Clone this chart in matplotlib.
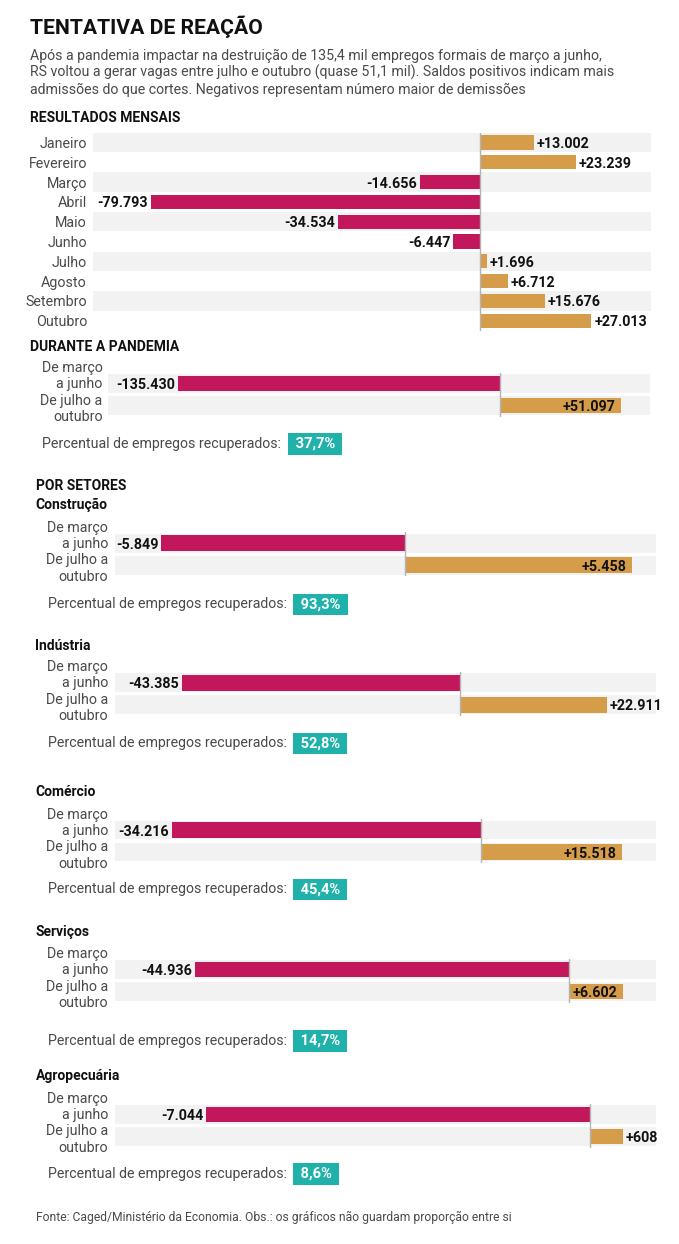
import matplotlib.pyplot as plt

# dados (saldo de empregos formais, RS)
meses = ['Janeiro', 'Fevereiro', 'Março', 'Abril', 'Maio', 'Junho',
         'Julho', 'Agosto', 'Setembro', 'Outubro']
saldo_mensal = [13002, 23239, -14656, -79793, -34534, -6447,
                1696, 6712, 15676, 27013]

periodos = ['De março\na junho', 'De julho a\noutubro']
pandemia = [-135430, 51097]
pct_pandemia = '37,7%'

setores = ['Construção', 'Indústria', 'Comércio', 'Serviços', 'Agropecuária']
perdas = [-5849, -43385, -34216, -44936, -7044]
ganhos = [5458, 22911, 15518, 6602, 608]
pct_setores = ['93,3%', '52,8%', '45,4%', '14,7%', '8,6%']

titulo = 'TENTATIVA DE REAÇÃO'
subtitulo = ['Após a pandemia impactar na destruição de 135,4 mil empregos formais de março a junho,',
             'RS voltou a gerar vagas entre julho e outubro (quase 51,1 mil). Saldos positivos indicam mais',
             'admissões do que cortes. Negativos representam número maior de demissões']
fonte = 'Fonte: Caged/Ministério da Economia. Obs.: os gráficos não guardam proporção entre si'

# estilo
W, H = 679, 1244
PINK = '#c2185b'
ORANGE = '#d59d4a'
TEAL = '#20b2aa'
BAND = '#f2f2f2'
ZERO = '#b4b4b4'
LIGHT = 'normal'
GREY = '#4a4a4a'
plt.rcParams['font.family'] = ['Roboto', 'DejaVu Sans']

fig = plt.figure(figsize=(W / 100, H / 100), dpi=100)


def txt(x, y, s, size, weight=LIGHT, color=GREY, ha='left', va='baseline'):
    return fig.text(x / W, 1 - y / H, s, fontsize=size, fontweight=weight,
                    color=color, ha=ha, va=va)


def fmt(v):
    return f'{v:+,}'.replace(',', '.')


def axes_px(left, right, top, bottom):
    return fig.add_axes([left / W, 1 - bottom / H, (right - left) / W, (bottom - top) / H])


def value_label(ax, v, y, inside=False):
    if v < 0:
        off, ha = -2, 'right'
    elif inside:
        off, ha = -4, 'right'
    else:
        off, ha = 2, 'left'
    ax.annotate(fmt(v), (v, y), xytext=(off, 0), textcoords='offset points',
                ha=ha, va='center_baseline', fontsize=10.3, fontweight='bold',
                color='#111', zorder=5)


def percentual(x, y, pct):
    t = txt(x, y, 'Percentual de empregos recuperados:', 10.2, va='center')
    fig.canvas.draw()
    bb = t.get_window_extent()
    fig.text((bb.x1 + 7 + 3.5) / W, 1 - y / H, ' ' + pct + ' ', fontsize=10.5,
             fontweight='bold', color='white', ha='left', va='center',
             bbox=dict(boxstyle='square,pad=0.25', fc=TEAL, ec='none'))


def dois_periodos(valores, left, right, c1, zero, scale, lab_right, inside):
    ax = axes_px(left, right, c1 - 11, c1 + 33)
    ax.set_xlim(-(zero - left) / scale, (right - zero) / scale)
    ax.set_ylim(1.5, -0.5)
    for i in range(2):
        ax.axhspan(i - 0.43, i + 0.43, color=BAND, lw=0, zorder=0)
    ax.barh([0, 1], valores, height=0.72, color=[PINK, ORANGE], zorder=2)
    ax.axvline(0, color=ZERO, lw=1, zorder=3)
    ax.axis('off')
    value_label(ax, valores[0], 0)
    value_label(ax, valores[1], 1, inside)
    linhas = periodos[0].split('\n') + periodos[1].split('\n')
    for ln, dy in zip(linhas, [-15.5, 0.5, 17, 33.5]):
        txt(lab_right, c1 + dy, ln, 10.3, ha='right', va='center')


# cabeçalho
txt(30, 34.5, titulo, 15.2, weight='bold', color='#111')
for k, linha in enumerate(subtitulo):
    txt(30, 60 + 17 * k, linha, 10.2)

# resultados mensais
txt(30, 121.7, 'RESULTADOS MENSAIS', 10, weight='bold', color='#111')
row0, pitch = 142.5, 19.8
ax = axes_px(93, 651, row0 - pitch / 2, row0 + pitch * 9.5)
zero_m, scale_m = 480, 0.004123
ax.set_xlim(-(zero_m - 93) / scale_m, (651 - zero_m) / scale_m)
ax.set_ylim(len(meses) - 0.5, -0.5)
for i in range(0, len(meses), 2):
    ax.axhspan(i - 0.485, i + 0.485, color=BAND, lw=0, zorder=0)
cores = [ORANGE if v > 0 else PINK for v in saldo_mensal]
ax.barh(range(len(meses)), saldo_mensal, height=0.72, color=cores, zorder=2)
ax.axvline(0, color=ZERO, lw=1, zorder=3)
ax.set_yticks(range(len(meses)), meses, fontsize=10.3, fontweight=LIGHT, color=GREY)
ax.tick_params(axis='y', length=0, pad=4.3)
ax.set_xticks([])
for s in ax.spines.values():
    s.set_visible(False)
for i, v in enumerate(saldo_mensal):
    value_label(ax, v, i)

# durante a pandemia
txt(30, 350.7, 'DURANTE A PANDEMIA', 10, weight='bold', color='#111')
dois_periodos(pandemia, 108, 650, 383.5, 500, 0.002375, 102.6, True)
percentual(42, 444, pct_pandemia)

# por setores
txt(35.5, 490, 'POR SETORES', 10, weight='bold', color='#111')
# baseline do nome, centro da 1a linha, zero (px), escala (px/vaga), rótulo dentro, y do percentual
layout = [(509, 543.3, 405, 0.04165, True, 604.3),
          (650, 682.7, 460, 0.00641, False, 743.3),
          (796, 830.0, 481.5, 0.00906, True, 889.3),
          (936, 969.5, 568.5, 0.00832, True, 1041),
          (1080, 1114.5, 590, 0.0545, False, 1174)]
for nome, perda, ganho, pct, (yb, c1, zero, sc, dentro, py) in zip(
        setores, perdas, ganhos, pct_setores, layout):
    txt(35.5, yb, nome, 10, weight='bold', color='#111')
    dois_periodos([perda, ganho], 115, 656, c1, zero, sc, 108, dentro)
    percentual(47.6, py, pct)

txt(35.5, 1220.5, fonte, 8.7)

fig.savefig('out.png', dpi=100)
